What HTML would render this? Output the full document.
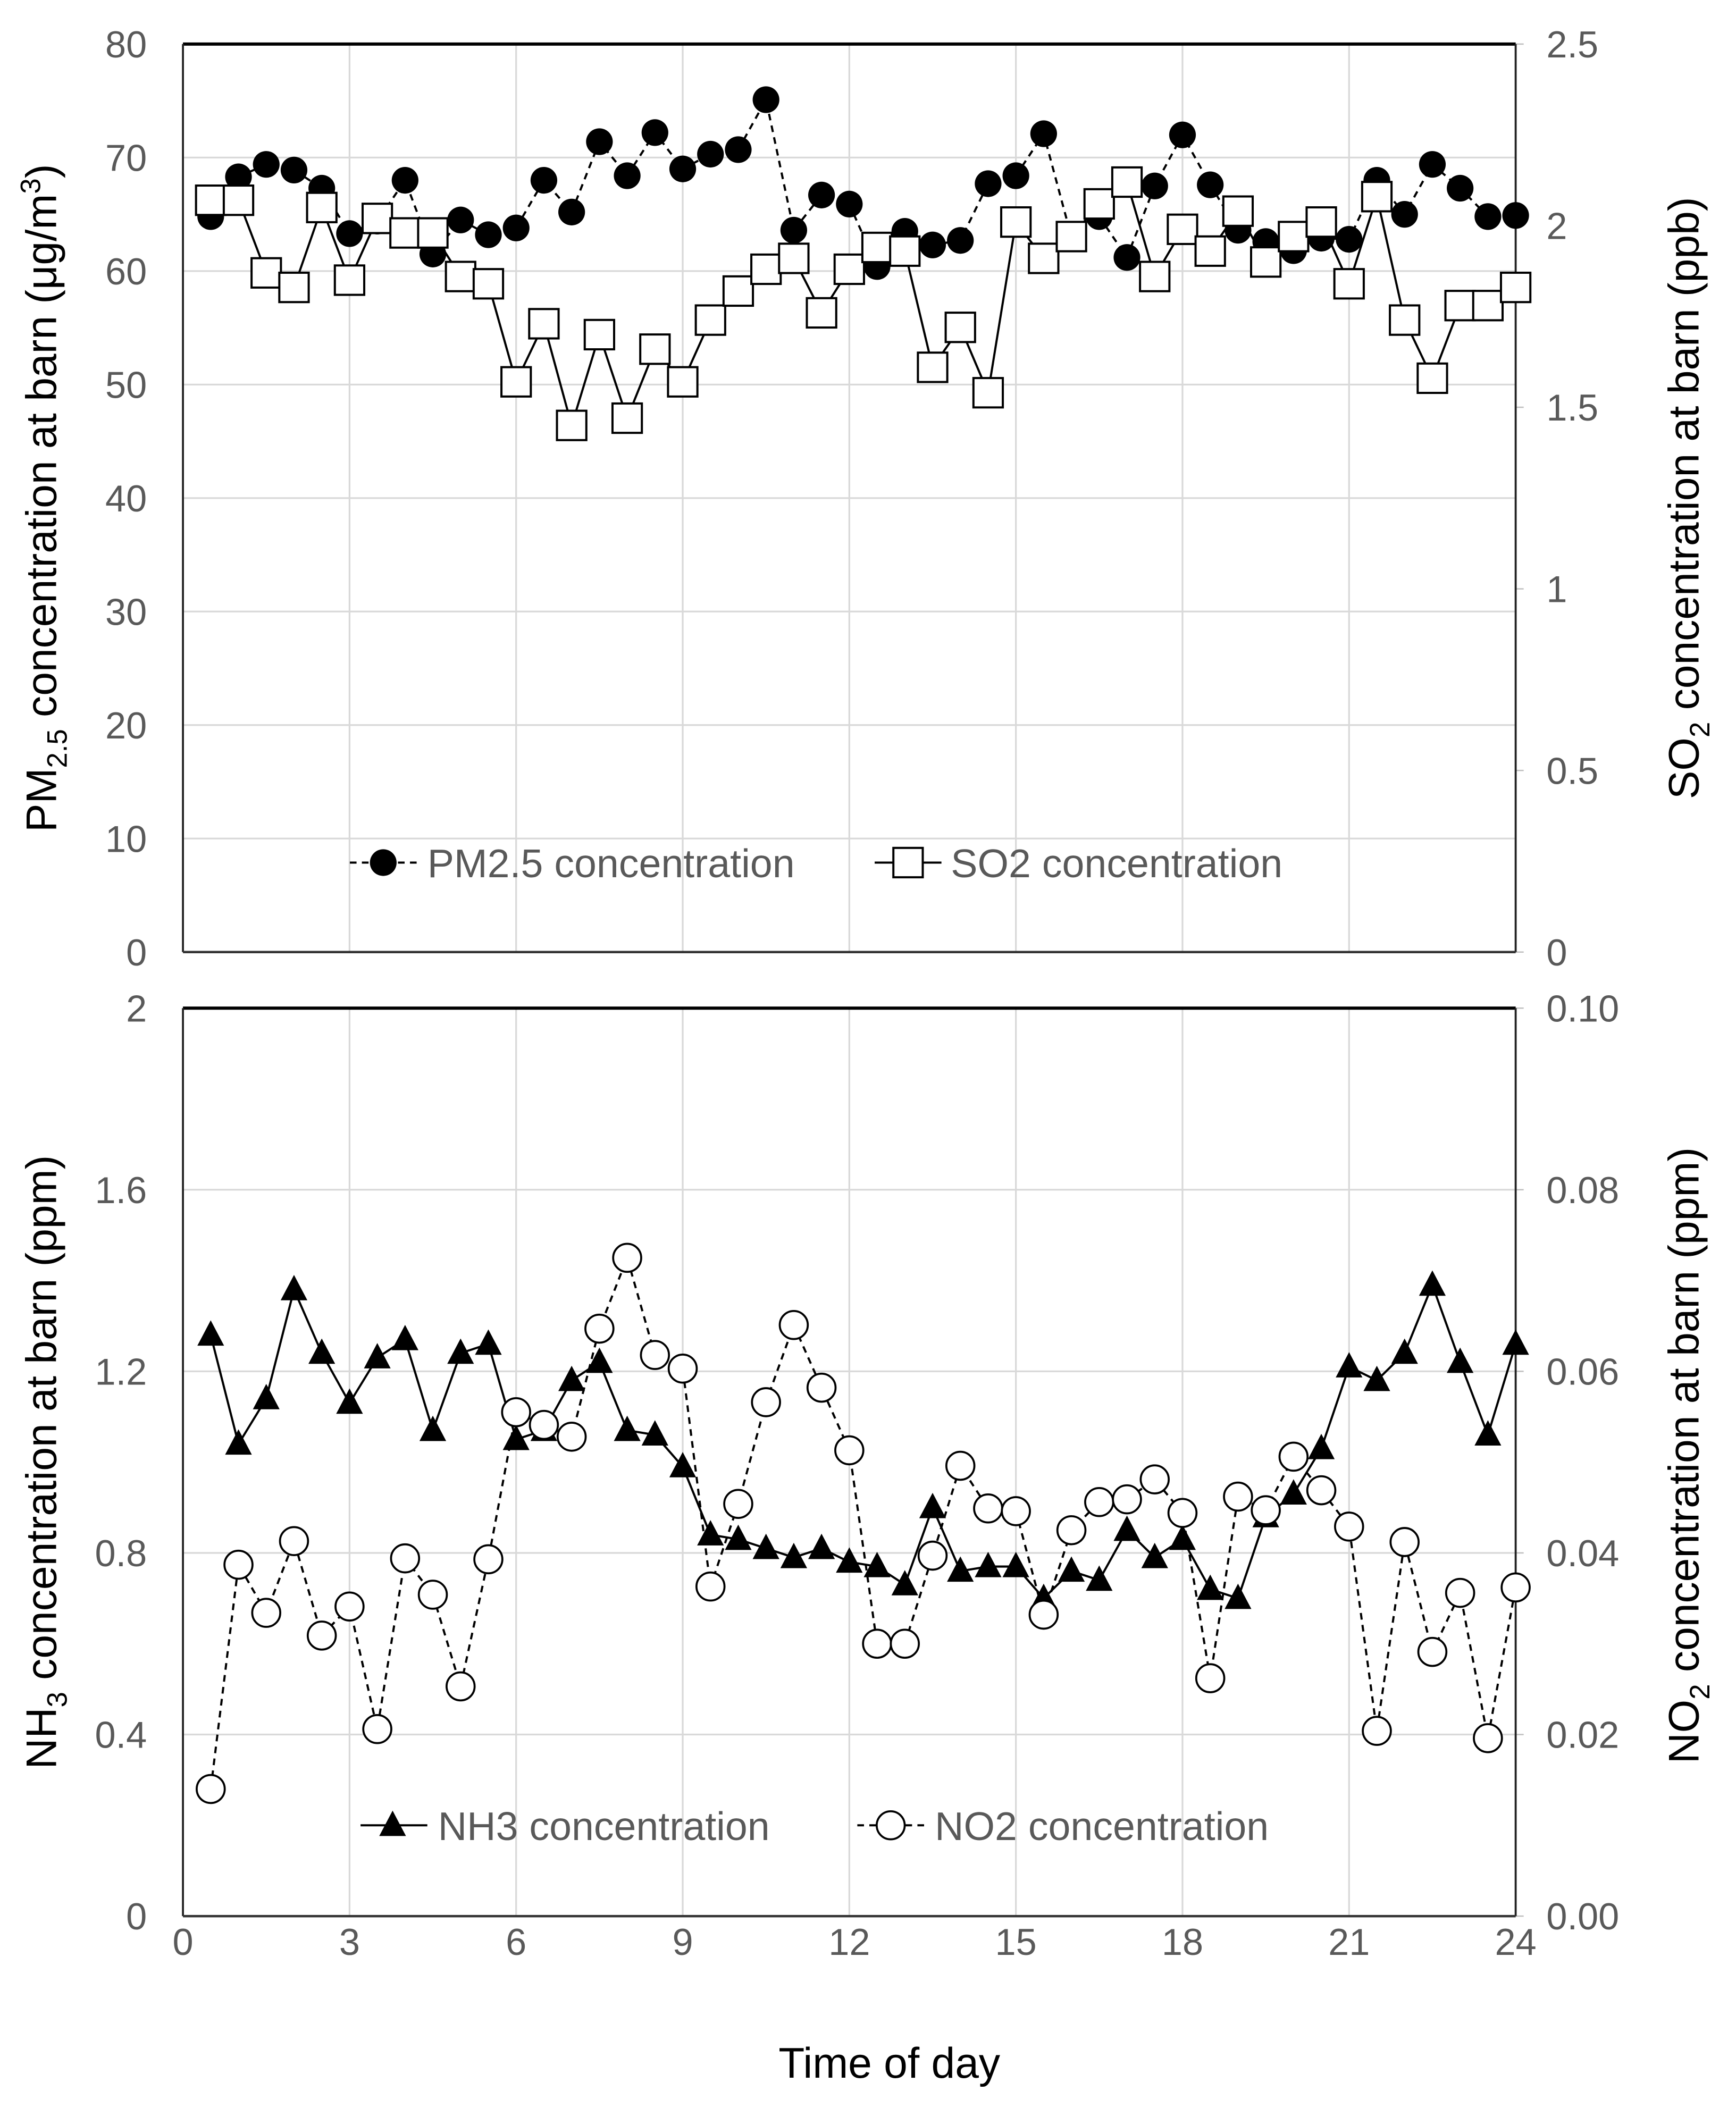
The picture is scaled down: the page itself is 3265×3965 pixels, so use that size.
<!DOCTYPE html>
<html><head><meta charset="utf-8"><style>
html,body{margin:0;padding:0;background:#fff}
svg{display:block}
text{font-family:"Liberation Sans","DejaVu Sans",sans-serif}
</style></head><body>
<svg id="chart" width="3265" height="3965" viewBox="0 0 1300 1578.7" xmlns="http://www.w3.org/2000/svg">
<g id="g1"></g>
<g id="g2"></g>
<text transform="translate(42,373) rotate(-90)" text-anchor="middle" font-size="32" fill="#000">PM<tspan font-size="21" dy="8">2.5</tspan><tspan dy="-8"> concentration at barn (μg/m</tspan><tspan font-size="21" dy="-12">3</tspan><tspan dy="12">)</tspan></text>
<text transform="translate(1272,373) rotate(-90)" text-anchor="middle" font-size="32" fill="#000">SO<tspan font-size="21" dy="8">2</tspan><tspan dy="-8"> concentration at barn (ppb)</tspan></text>
<text transform="translate(42,1095) rotate(-90)" text-anchor="middle" font-size="32" fill="#000">NH<tspan font-size="21" dy="8">3</tspan><tspan dy="-8"> concentration at barn (ppm)</tspan></text>
<text transform="translate(1272,1090) rotate(-90)" text-anchor="middle" font-size="32" fill="#000">NO<tspan font-size="21" dy="8">2</tspan><tspan dy="-8"> concentration at barn (ppm)</tspan></text>
<text x="666" y="1556" text-anchor="middle" font-size="32" fill="#000">Time of day</text>
</svg>
<script>
const hours = [0.5,1,1.5,2,2.5,3,3.5,4,4.5,5,5.5,6,6.5,7,7.5,8,8.5,9,9.5,10,10.5,11,11.5,12,12.5,13,13.5,14,14.5,15,15.5,16,16.5,17,17.5,18,18.5,19,19.5,20,20.5,21,21.5,22,22.5,23,23.5,24];
const pm25 = [64.8,68.3,69.4,68.9,67.3,63.3,64.4,68,61.5,64.5,63.2,63.8,68,65.2,71.4,68.4,72.2,69,70.3,70.7,75.1,63.6,66.7,65.9,60.4,63.5,62.3,62.7,67.7,68.4,72.1,63,64.8,61.2,67.5,72,67.6,63.6,62.6,61.8,62.9,62.8,68,65,69.4,67.3,64.8,64.9];
const so2 = [2.07,2.07,1.87,1.83,2.05,1.85,2.02,1.98,1.98,1.86,1.84,1.57,1.73,1.45,1.70,1.47,1.66,1.57,1.74,1.82,1.88,1.91,1.76,1.88,1.94,1.93,1.61,1.72,1.54,2.01,1.91,1.97,2.06,2.12,1.86,1.99,1.93,2.04,1.90,1.97,2.01,1.84,2.08,1.74,1.58,1.78,1.78,1.83];
const nh3 = [1.28,1.04,1.14,1.38,1.24,1.13,1.23,1.27,1.07,1.24,1.26,1.05,1.07,1.18,1.22,1.07,1.06,0.99,0.84,0.83,0.81,0.79,0.81,0.78,0.77,0.73,0.90,0.76,0.77,0.77,0.70,0.76,0.74,0.85,0.79,0.83,0.72,0.70,0.88,0.93,1.03,1.21,1.18,1.24,1.39,1.22,1.06,1.26];
const no2 = [0.014,0.0387,0.0334,0.0413,0.0309,0.0341,0.0206,0.0394,0.0354,0.0253,0.0393,0.0555,0.0541,0.0528,0.0647,0.0725,0.0618,0.0603,0.0363,0.0454,0.0566,0.0651,0.0582,0.0513,0.030,0.030,0.0397,0.0496,0.0449,0.0446,0.0332,0.0425,0.0456,0.0459,0.0481,0.0444,0.0262,0.0462,0.0447,0.0506,0.0469,0.0429,0.0204,0.0412,0.0291,0.0356,0.0196,0.0362];
const xTicks = [0,3,6,9,12,15,18,21,24];
const pmTicks = [0,10,20,30,40,50,60,70,80];
const so2Ticks = ["0","0.5","1","1.5","2","2.5"];
const nh3Ticks = ["0","0.4","0.8","1.2","1.6","2"];
const no2Ticks = ["0.00","0.02","0.04","0.06","0.08","0.10"];

const NS="http://www.w3.org/2000/svg";
const L=137,R=1135;
const xs=t=>L+(R-L)*t/24;
function el(p,tag,at){const e=document.createElementNS(NS,tag);for(const k in at)e.setAttribute(k,at[k]);p.appendChild(e);return e;}
function panel(g,top,bot,leftMax,leftTicks,rightMax,rightTicks){
  const yl=v=>bot-(bot-top)*v/leftMax, yr=v=>bot-(bot-top)*v/rightMax;
  leftTicks.forEach(v=>{const yy=yl(+v);
    if(yy>top+1&&yy<bot-1){const l=el(g,'line',{x1:L,x2:R,y1:yy,y2:yy,stroke:'#d9d9d9','stroke-width':1.3});
    
    }
    const t=el(g,'text',{x:110,y:yy+10,'text-anchor':'end','font-size':28,fill:'#595959'});t.textContent=v;
    
    
  });
  rightTicks.forEach(v=>{const yy=yr(+v);
    const t=el(g,'text',{x:1158,y:yy+10,'font-size':28,fill:'#595959'});t.textContent=v;
    
    
    el(g,'line',{x1:R,x2:R+6,y1:yy,y2:yy,stroke:'#bfbfbf','stroke-width':1});
  });
  xTicks.forEach(v=>{if(v>0&&v<24){const l=el(g,'line',{x1:xs(v),x2:xs(v),y1:top,y2:bot,stroke:'#d9d9d9','stroke-width':1.3});
    
    }});
  el(g,'line',{x1:L,x2:R,y1:top,y2:top,stroke:'#000','stroke-width':2.4});
  el(g,'line',{x1:L,x2:L,y1:top,y2:bot,stroke:'#222','stroke-width':1.5});
  el(g,'line',{x1:R,x2:R,y1:top,y2:bot,stroke:'#222','stroke-width':1.5});
  el(g,'line',{x1:L,x2:R,y1:bot,y2:bot,stroke:'#333','stroke-width':1.8});
  return {yl,yr};
}
function series(g,vals,yf,dash,name){
  const pts=vals.map((v,i)=>xs(hours[i])+','+yf(v)).join(' ');
  const p=el(g,'polyline',{points:pts,fill:'none',stroke:'#000','stroke-width':1.6,'stroke-dasharray':dash?'5,4':'none'});
  
  
}
const g1=document.getElementById('g1');
const a=panel(g1,33,713,80,pmTicks.map(String),2.5,so2Ticks);
series(g1,pm25,a.yl,true,'pm25');
pm25.forEach((v,i)=>{const c=el(g1,'circle',{cx:xs(hours[i]),cy:a.yl(v),r:10,fill:'#000'});
  
  });
series(g1,so2,a.yr,false,'so2');
so2.forEach((v,i)=>{const s=el(g1,'rect',{x:xs(hours[i])-11,y:a.yr(v)-11,width:22,height:22,fill:'#fff',stroke:'#000','stroke-width':1.6});
  
  });
el(g1,'line',{x1:262,x2:312,y1:646,y2:646,stroke:'#000','stroke-width':1.6,'stroke-dasharray':'5,4'});
el(g1,'circle',{cx:287,cy:646,r:10,fill:'#000'});
let t=el(g1,'text',{x:320,y:657,'font-size':30,fill:'#595959'});t.textContent='PM2.5 concentration';


el(g1,'line',{x1:655,x2:705,y1:646,y2:646,stroke:'#000','stroke-width':1.6});
el(g1,'rect',{x:669,y:635,width:22,height:22,fill:'#fff',stroke:'#000','stroke-width':1.6});
t=el(g1,'text',{x:712,y:657,'font-size':30,fill:'#595959'});t.textContent='SO2 concentration';


const g2=document.getElementById('g2');
const b=panel(g2,755,1435,2,nh3Ticks,0.10,no2Ticks);
xTicks.forEach(v=>{const tx=el(g2,'text',{x:xs(v),y:1464,'text-anchor':'middle','font-size':28,fill:'#595959'});tx.textContent=v;
  
  });
series(g2,nh3,b.yl,false,'nh3');
nh3.forEach((v,i)=>{const x=xs(hours[i]),y=b.yl(v);const p=el(g2,'polygon',{points:`${x},${y-11} ${x+10},${y+8} ${x-10},${y+8}`,fill:'#000'});
  
  });
series(g2,no2,b.yr,true,'no2');
no2.forEach((v,i)=>{const c=el(g2,'circle',{cx:xs(hours[i]),cy:b.yr(v),r:10.5,fill:'#fff',stroke:'#000','stroke-width':1.5});
  
  });
el(g2,'line',{x1:270,x2:320,y1:1367,y2:1367,stroke:'#000','stroke-width':1.6});
el(g2,'polygon',{points:'294,1356 304,1375 284,1375',fill:'#000'});
t=el(g2,'text',{x:328,y:1378,'font-size':30,fill:'#595959'});t.textContent='NH3 concentration';


el(g2,'line',{x1:642,x2:692,y1:1367,y2:1367,stroke:'#000','stroke-width':1.6,'stroke-dasharray':'5,4'});
el(g2,'circle',{cx:667,cy:1367,r:10.5,fill:'#fff',stroke:'#000','stroke-width':1.5});
t=el(g2,'text',{x:700,y:1378,'font-size':30,fill:'#595959'});t.textContent='NO2 concentration';


</script>
</body></html>
